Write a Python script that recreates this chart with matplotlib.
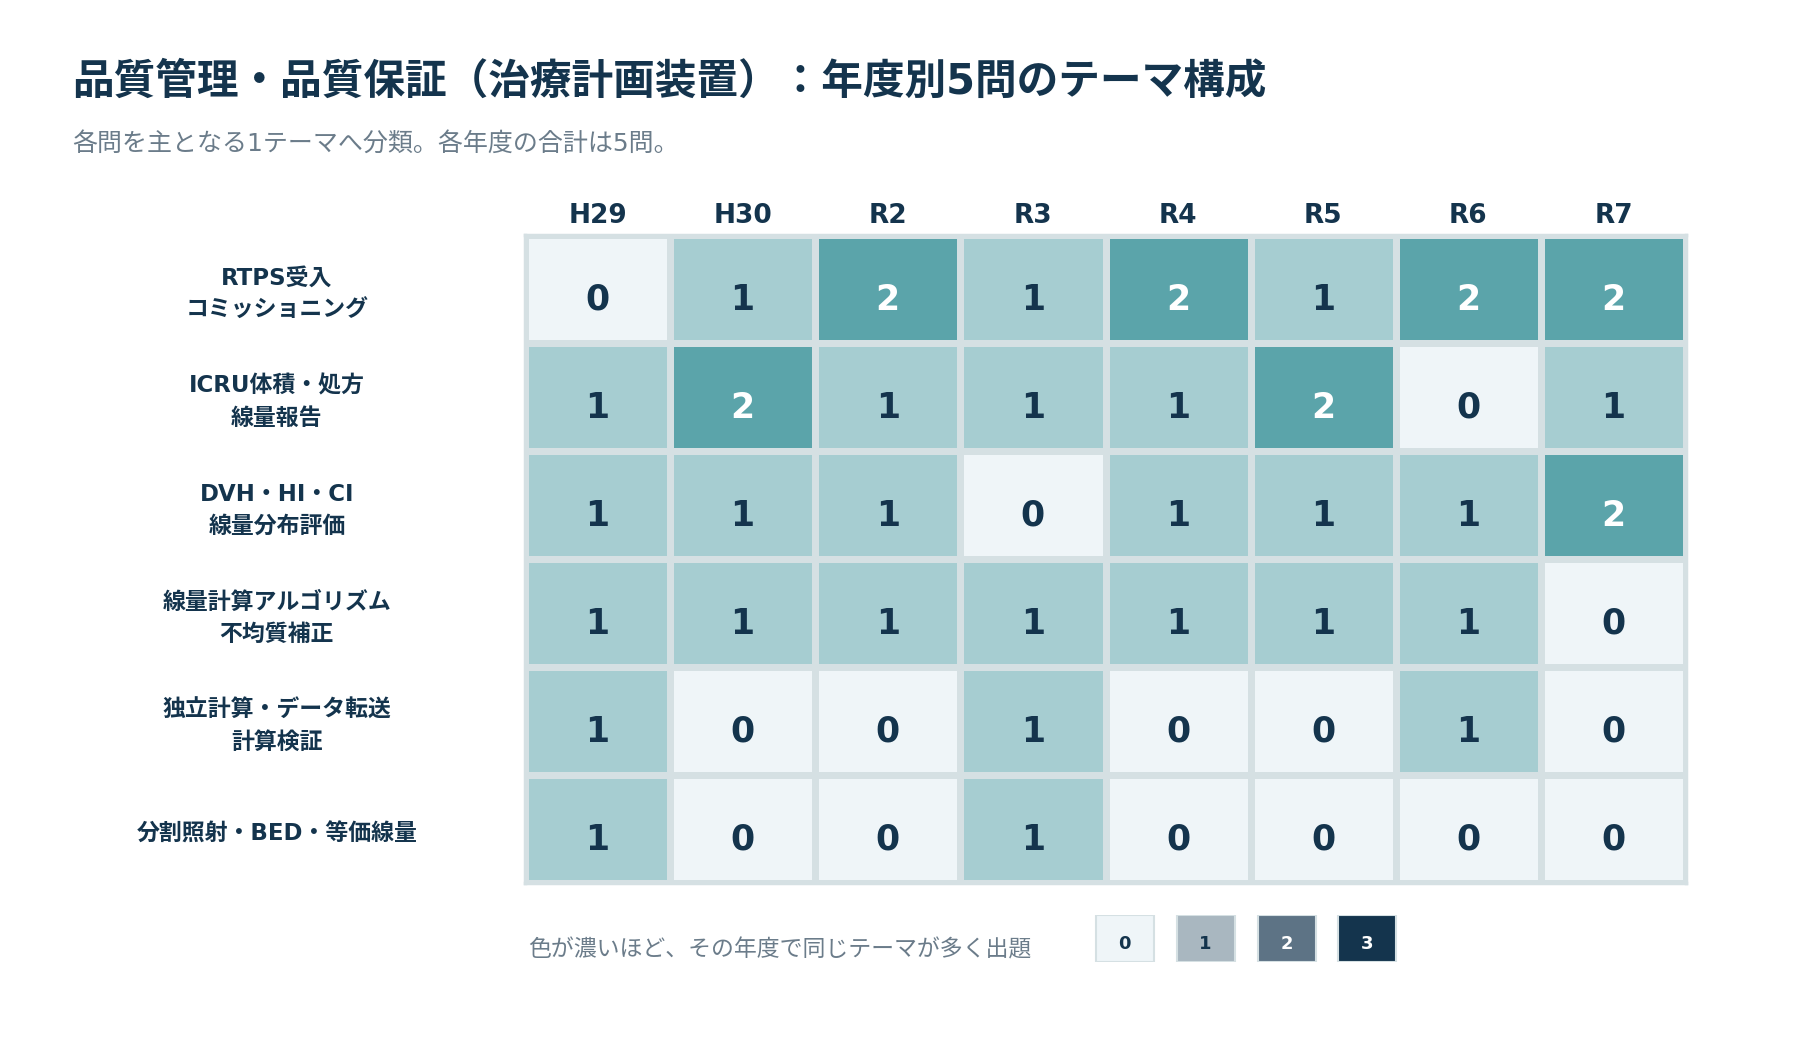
import numpy as np
import matplotlib
matplotlib.use('Agg')
import matplotlib.pyplot as plt
from matplotlib.colors import ListedColormap, BoundaryNorm

plt.rcParams['font.family'] = ['DejaVu Sans', 'Noto Sans CJK JP']

title = '品質管理・品質保証（治療計画装置）：年度別5問のテーマ構成'
subtitle = '各問を主となる1テーマへ分類。各年度の合計は5問。'
legend_note = '色が濃いほど、その年度で同じテーマが多く出題'

years = ['H29', 'H30', 'R2', 'R3', 'R4', 'R5', 'R6', 'R7']
themes = [
    'RTPS受入\nコミッショニング',
    'ICRU体積・処方\n線量報告',
    'DVH・HI・CI\n線量分布評価',
    '線量計算アルゴリズム\n不均質補正',
    '独立計算・データ転送\n計算検証',
    '分割照射・BED・等価線量',
]
counts = np.array([
    [0, 1, 2, 1, 2, 1, 2, 2],
    [1, 2, 1, 1, 1, 2, 0, 1],
    [1, 1, 1, 0, 1, 1, 1, 2],
    [1, 1, 1, 1, 1, 1, 1, 0],
    [1, 0, 0, 1, 0, 0, 1, 0],
    [1, 0, 0, 1, 0, 0, 0, 0],
])
levels = [0, 1, 2, 3]

DARK = '#14344d'
GRAY = '#6b7c8a'
GRID = '#d5e0e3'
cell_colors = ['#eff5f8', '#a6cdd1', '#5ba4aa', '#2f7f88']
legend_colors = ['#eff5f8', '#a9b7c0', '#5d7385', '#14344d']

W, H = 1800, 1040
fig = plt.figure(figsize=(W / 100, H / 100), dpi=100)


def px_axes(x0, y0, x1, y1):
    return fig.add_axes([x0 / W, 1 - y1 / H, (x1 - x0) / W, (y1 - y0) / H])


fig.text(72 / W, 1 - 82 / H, title, fontsize=30, fontweight='bold', color=DARK, va='center')
fig.text(72 / W, 1 - 144 / H, subtitle, fontsize=18, color=GRAY, va='center')

# heatmap
ax = px_axes(525, 235, 1686, 883)
cmap = ListedColormap(cell_colors)
norm = BoundaryNorm([-0.5, 0.5, 1.5, 2.5, 3.5], cmap.N)
ax.pcolormesh(counts, cmap=cmap, norm=norm, edgecolors=GRID, linewidth=3.8)
ax.set_xlim(0, len(years))
ax.set_ylim(len(themes), 0)
for s in ax.spines.values():
    s.set_color(GRID)
    s.set_linewidth(2.5)
ax.set_xticks(np.arange(len(years)) + 0.5)
ax.set_xticklabels(years, fontsize=19, fontweight='bold', color=DARK)
ax.xaxis.tick_top()
ax.tick_params(axis='x', length=0, pad=4)
ax.set_yticks([])
for i in range(counts.shape[0]):
    for j in range(counts.shape[1]):
        v = counts[i, j]
        ax.text(j + 0.5, i + 0.6, str(v), ha='center', va='center', fontsize=25,
                fontweight='bold', color='white' if v >= 2 else DARK)
for i, t in enumerate(themes):
    ax.text(-1.71, i + 0.55, t, ha='center', va='center', fontsize=16.5,
            fontweight='bold', color=DARK, linespacing=1.5)

# legend
fig.text(528 / W, 1 - 950 / H, legend_note, fontsize=16.5, color=GRAY, va='center')
lax = px_axes(1084, 915, 1408, 962)
lax.bar(levels, 1, width=58 / 81, color=legend_colors, edgecolor=GRID, linewidth=1.5)
lax.set_xlim(-0.5, 3.5)
lax.set_ylim(0, 1)
lax.axis('off')
for k in levels:
    lax.text(k, 0.38, str(k), ha='center', va='center', fontsize=13, fontweight='bold',
             color='white' if k >= 2 else DARK)

fig.savefig('out.png', dpi=100, facecolor='white')
